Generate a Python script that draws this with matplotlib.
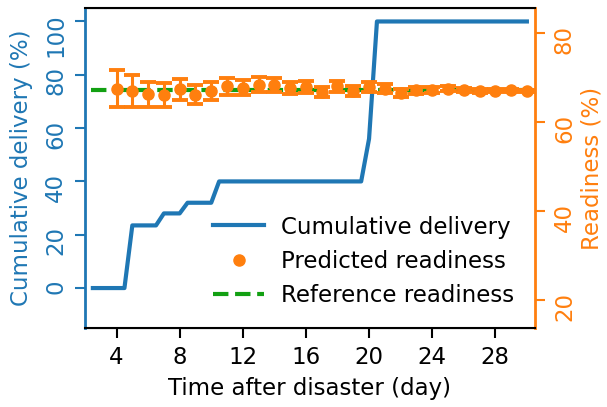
import numpy as np
import matplotlib
matplotlib.use("Agg")
import matplotlib.pyplot as plt
from matplotlib.lines import Line2D
from matplotlib.transforms import ScaledTranslation

# cumulative delivery breakpoints (day, %)
delivery_day = [2.5, 4.5, 5.0, 6.5, 7.0, 8.0, 8.5, 10.0, 10.5, 19.5, 20.0, 20.5, 30.0]
delivery_pct = [0, 0, 23.5, 23.5, 28, 28, 32, 32, 40, 40, 56, 100, 100]

# predicted readiness (right axis)
days = list(range(4, 31))
readiness = [67.6, 67.1, 66.3, 66.2, 67.4, 66.2, 67.0, 68.1, 67.8, 68.5, 68.4, 67.7, 68.0,
             66.8, 68.1, 67.0, 68.0, 67.6, 66.7, 67.2, 67.2, 67.6, 67.3, 67.1, 67.1, 67.2, 67.0]
readiness_err = [4.2, 3.6, 2.8, 2.7, 2.3, 2.1, 2.0, 1.9, 1.7, 1.6, 1.5, 1.3, 1.3,
                 1.2, 1.2, 1.1, 1.1, 1.0, 0.9, 0.8, 0.7, 0.6, 0.5, 0.4, 0.3, 0.3, 0.2]
reference_readiness = 67.3
reference_span = [2.4, 30.0]

BLUE = "#1f77b4"
ORANGE = "#ff7f0e"
GREEN = "#12a012"
FS = 16.5

fig, ax = plt.subplots(figsize=(6.07, 4.07), dpi=100)
fig.subplots_adjust(left=0.140, right=0.881, bottom=0.194, top=0.980)
ax2 = ax.twinx()

ax.plot(delivery_day, delivery_pct, color=BLUE, lw=3, zorder=3)
ax2.plot(reference_span, [reference_readiness] * 2, color=GREEN, lw=3, ls="--", zorder=2)
ax2.errorbar(days, readiness, yerr=readiness_err, fmt="none", ecolor=ORANGE,
             elinewidth=2.2, capsize=6, capthick=2.8, zorder=3)
ax2.plot(days, readiness, "o", color=ORANGE, ms=8, zorder=4)

ax.set_xlim(2, 30.5)
ax.set_ylim(-15, 105)
ax2.set_ylim(13.7, 85.7)
ax.set_xticks([4, 8, 12, 16, 20, 24, 28])
ax.set_yticks([0, 20, 40, 60, 80, 100])
ax2.set_yticks([20, 40, 60, 80])

ax.set_xlabel("Time after disaster (day)", fontsize=FS, labelpad=6)
ax.set_ylabel("Cumulative delivery (%)", fontsize=FS, color=BLUE, labelpad=8)
ax2.set_ylabel("Readiness (%)", fontsize=FS, color=ORANGE, labelpad=3)

ax.tick_params(axis="x", labelsize=FS, width=1.5, length=7, pad=6)
ax.tick_params(axis="y", labelsize=FS, colors=BLUE, width=1.5, length=7, pad=9.5)
ax2.tick_params(axis="y", labelsize=FS, colors=ORANGE, width=1.5, length=7, pad=19)
for s in ["top", "bottom"]:
    ax2.spines[s].set_linewidth(1.5)
ax2.spines["left"].set_color(BLUE)
ax2.spines["left"].set_linewidth(2)
ax2.spines["right"].set_color(ORANGE)
ax2.spines["right"].set_linewidth(2)
ax.spines["left"].set_visible(False)
ax.spines["right"].set_visible(False)

# y tick labels are turned upright, ending just above their tick
shift = ScaledTranslation(0, 6 / 72, fig.dpi_scale_trans)
for lbl in ax.get_yticklabels() + ax2.get_yticklabels():
    lbl.set_rotation(90)
    lbl.set_rotation_mode("anchor")
    lbl.set_ha("right")
    lbl.set_va("baseline")
    lbl.set_transform(lbl.get_transform() + shift)

handles = [Line2D([], [], color=BLUE, lw=3),
           Line2D([], [], color=ORANGE, marker="o", ls="none", ms=8),
           Line2D([], [], color=GREEN, lw=3, ls="--")]
labels = ["Cumulative delivery", "Predicted readiness", "Reference readiness"]
ax2.legend(handles, labels, loc="lower right", frameon=False, fontsize=FS,
           handlelength=2.2, handletextpad=0.75, labelspacing=0.5)

fig.savefig("out.png", dpi=100)
